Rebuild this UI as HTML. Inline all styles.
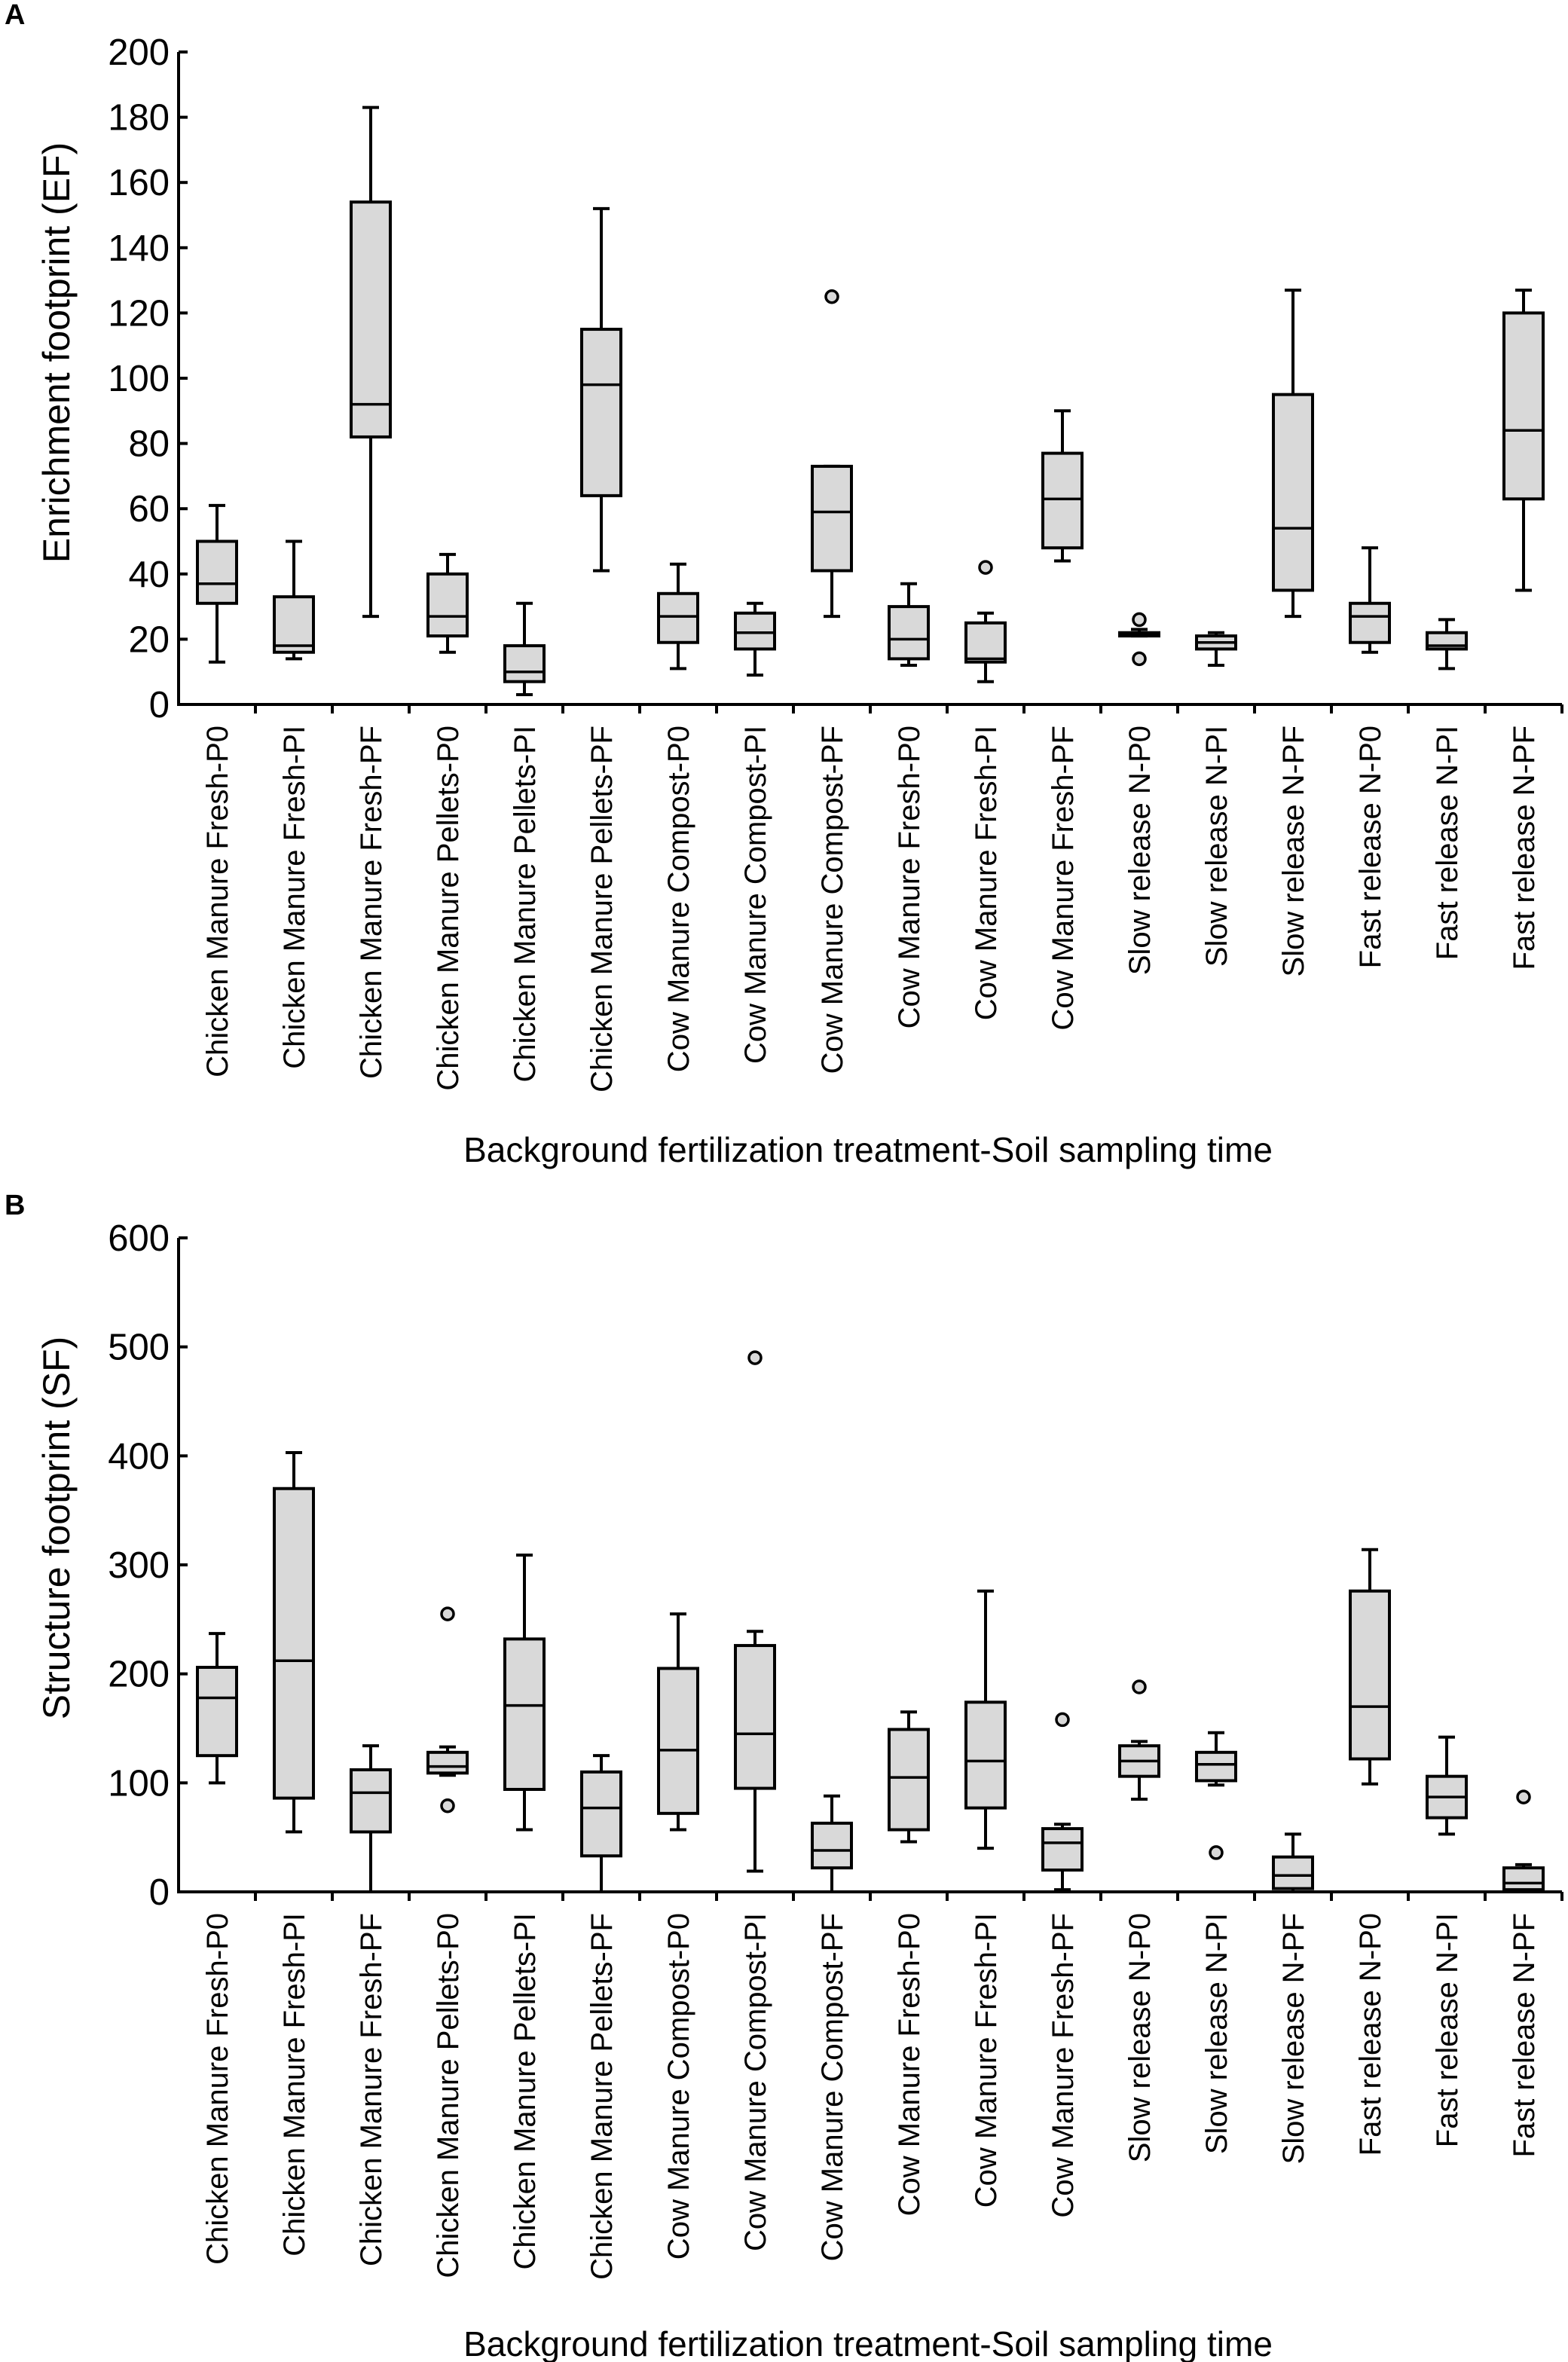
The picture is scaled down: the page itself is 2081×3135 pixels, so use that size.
<!DOCTYPE html>
<html><head><meta charset="utf-8"><style>
body{margin:0;background:#fff}
svg{display:block;font-family:"Liberation Sans",Arial,sans-serif}
</style></head><body>
<svg id="c" width="2081" height="3135" viewBox="0 0 2081 3135" xmlns="http://www.w3.org/2000/svg">
<text x="6" y="32" font-size="38" font-weight="bold">A</text>
<text x="6" y="1612" font-size="38" font-weight="bold">B</text>
</svg>
<script>
const categories=["Chicken Manure Fresh-P0","Chicken Manure Fresh-PI","Chicken Manure Fresh-PF","Chicken Manure Pellets-P0","Chicken Manure Pellets-PI","Chicken Manure Pellets-PF","Cow Manure Compost-P0","Cow Manure Compost-PI","Cow Manure Compost-PF","Cow Manure Fresh-P0","Cow Manure Fresh-PI","Cow Manure Fresh-PF","Slow release N-P0","Slow release N-PI","Slow release N-PF","Fast release N-P0","Fast release N-PI","Fast release N-PF"];
// Panel A: [whiskerLow, q1, median, q3, whiskerHigh]
const efMin=[13,14,27,16,3,41,11,9,27,12,7,44,21,12,27,16,11,35];
const efQ1=[31,16,82,21,7,64,19,17,41,14,13,48,21,17,35,19,17,63];
const efMed=[37,18,92,27,10,98,27,22,59,20,14,63,21.5,19,54,27,18,84];
const efQ3=[50,33,154,40,18,115,34,28,73,30,25,77,22,21,95,31,22,120];
const efMax=[61,50,183,46,31,152,43,31,73,37,28,90,23,22,127,48,26,127];
const efOutliers=[[8,125],[10,42],[12,26],[12,14]];
const efTicks=[0,20,40,60,80,100,120,140,160,180,200];
// Panel B
const sfMin=[100,55,0,107,57,0,57,19,0,46,40,2,85,98,0,99,53,0];
const sfQ1=[125,86,55,109,94,33,72,95,22,57,77,20,106,102,3,122,68,2];
const sfMed=[178,212,91,115,171,77,130,145,38,105,120,45,120,117,15,170,87,8];
const sfQ3=[206,370,112,128,232,110,205,226,63,149,174,58,134,128,32,276,106,22];
const sfMax=[237,403,134,133,309,125,255,239,88,165,276,62,138,146,53,314,142,25];
const sfOutliers=[[3,255],[3,79],[7,490],[11,158],[12,188],[13,36],[17,87]];
const sfTicks=[0,100,200,300,400,500,600];

const svg=document.getElementById('c');
const NS='http://www.w3.org/2000/svg';
function mk(tag,attrs,parent){const e=document.createElementNS(NS,tag);for(const k in attrs)e.setAttribute(k,attrs[k]);(parent||svg).appendChild(e);return e;}

function panel(p){
  const g=mk('g',{});
  
  
  const x0=237,x1=2073,step=(x1-x0)/categories.length;
  const yS=v=>p.yBot-(v-p.vmin)/(p.vmax-p.vmin)*(p.yBot-p.yTop);
  const xC=i=>x0+step*(i+0.5);
  const ax=mk('path',{d:`M${x0},${p.yTop} V${p.yBot} H${x1}`,stroke:'#000','stroke-width':4,fill:'none'},g);
  
  
  p.ticks.forEach(t=>{
    const y=yS(t);
    mk('line',{x1:x0,x2:x0+12,y1:y,y2:y,stroke:'#000','stroke-width':4},g);
    const tx=mk('text',{x:x0-12,y:y+17,'font-size':49,'text-anchor':'end'},g);
    tx.textContent=t;
    
    
  });
  for(let i=1;i<=categories.length;i++){
    const x=x0+step*i;
    mk('line',{x1:x,x2:x,y1:p.yBot,y2:p.yBot+12,stroke:'#000','stroke-width':4},g);
  }
  categories.forEach((c,i)=>{
    const cx=xC(i),hw=26;
    const bg=mk('g',{},g);
    
    
    mk('line',{x1:cx,x2:cx,y1:yS(p.min[i]),y2:yS(p.q1[i]),stroke:'#000','stroke-width':4},bg);
    mk('line',{x1:cx,x2:cx,y1:yS(p.q3[i]),y2:yS(p.max[i]),stroke:'#000','stroke-width':4},bg);
    mk('line',{x1:cx-11,x2:cx+11,y1:yS(p.min[i]),y2:yS(p.min[i]),stroke:'#000','stroke-width':4},bg);
    mk('line',{x1:cx-11,x2:cx+11,y1:yS(p.max[i]),y2:yS(p.max[i]),stroke:'#000','stroke-width':4},bg);
    mk('rect',{x:cx-hw,y:yS(p.q3[i]),width:hw*2,height:Math.max(1,yS(p.q1[i])-yS(p.q3[i])),fill:'#d9d9d9',stroke:'#000','stroke-width':4},bg);
    mk('line',{x1:cx-hw,x2:cx+hw,y1:yS(p.med[i]),y2:yS(p.med[i]),stroke:'#000','stroke-width':3.5},bg);
    const lt=mk('text',{x:0,y:0,'font-size':40,'text-anchor':'end',transform:`translate(${cx+14},${p.yBot+28}) rotate(-90)`},g);
    lt.textContent=c;
    
    
  });
  p.out.forEach(o=>{
    const ci=mk('circle',{cx:xC(o[0]),cy:yS(o[1]),r:8,fill:'#d9d9d9',stroke:'#000','stroke-width':3.5},g);
    
    
  });
  const yt=mk('text',{x:0,y:0,'font-size':50,'text-anchor':'middle',transform:`translate(${92},${p.ytC}) rotate(-90)`},g);
  yt.textContent=p.ytitle;
  
  
  const xt=mk('text',{x:1152,y:p.xtY,'font-size':46,'text-anchor':'middle'},g);
  xt.textContent='Background fertilization treatment-Soil sampling time';
  
  
}
panel({name:'panel-a-chart',yTop:69,yBot:935,vmin:0,vmax:200,ticks:efTicks,min:efMin,q1:efQ1,med:efMed,q3:efQ3,max:efMax,out:efOutliers,ytitle:'Enrichment footprint (EF)',xtY:1542,ytC:468});
panel({name:'panel-b-chart',yTop:1643,yBot:2511,vmin:0,vmax:600,ticks:sfTicks,min:sfMin,q1:sfQ1,med:sfMed,q3:sfQ3,max:sfMax,out:sfOutliers,ytitle:'Structure footprint (SF)',xtY:3127,ytC:2028});
</script>
</body></html>
